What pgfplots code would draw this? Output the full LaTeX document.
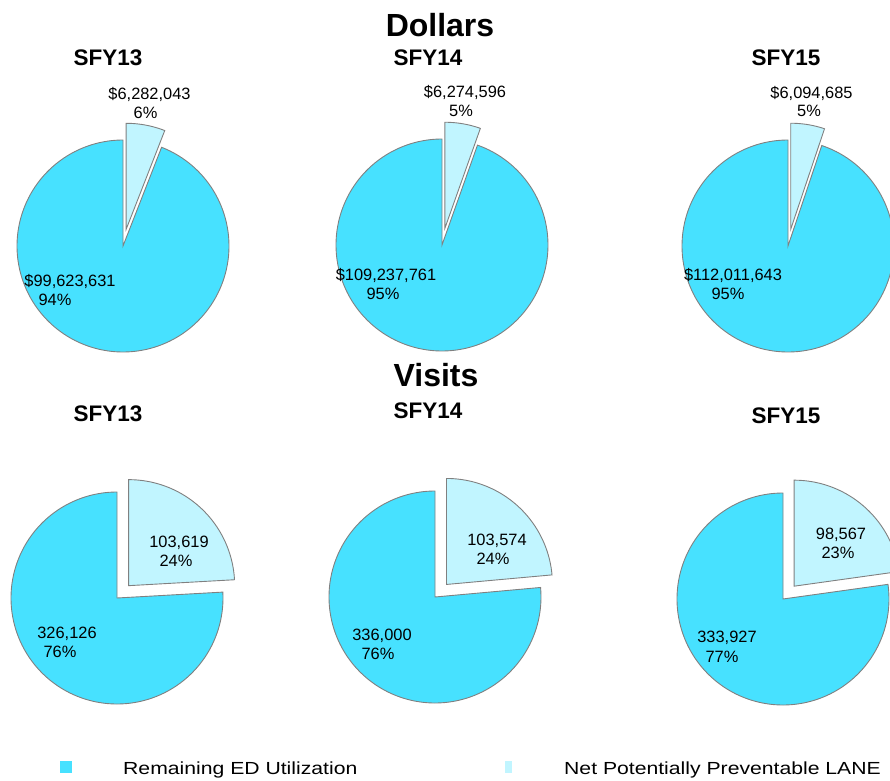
\documentclass[border=0pt]{standalone}
\usepackage{pgfplots}
\pgfplotsset{compat=1.18}
\usepackage{fontspec}
\setmainfont{Liberation Sans}
\newfontfamily\legfont[FakeStretch=1.21]{Liberation Sans}
\definecolor{mainc}{RGB}{71,225,255}
\definecolor{lightc}{RGB}{193,245,255}
\definecolor{edgec}{RGB}{128,128,128}
\newcommand\lab{\fontsize{16.4bp}{18bp}\selectfont}
\newcommand\sub{\fontsize{22.5bp}{24bp}\selectfont\bfseries}
\newcommand\ttl{\fontsize{32bp}{34bp}\selectfont\bfseries}
% \pie{cx}{cy}{remaining}{preventable}
\newcommand\pie[4]{%
  \pgfmathsetmacro\fr{#4/(#3+#4)}%
  \pgfmathsetmacro\th{360*\fr}%
  \pgfmathsetmacro\sa{90-\th}%
  \pgfmathsetmacro\mi{90-\th/2}%
  \pgfmathsetmacro\tx{#1+17*cos(\mi)}%
  \pgfmathsetmacro\ty{#2-17*sin(\mi)}%
  \edef\temp{%
    \noexpand\addplot[fill=mainc,draw=edgec,line width=0.9bp,domain=-270:\sa,samples=200,variable=\noexpand\t]
      ({#1+106*cos(\noexpand\t)},{#2-106*sin(\noexpand\t)}) -- (#1,#2) -- cycle;
    \noexpand\addplot[fill=lightc,draw=edgec,line width=0.9bp,domain=\sa:90,samples=80,variable=\noexpand\t]
      ({\tx+106*cos(\noexpand\t)},{\ty-106*sin(\noexpand\t)}) -- (\tx,\ty) -- cycle;
  }%
  \temp
}
\begin{document}
\begin{tikzpicture}
\useasboundingbox (0,0) rectangle (890bp,781bp);
\begin{axis}[
  at={(0,0)}, anchor=south west,
  width=890bp, height=781bp, scale only axis,
  xmin=0, xmax=890, ymin=0, ymax=781, y dir=reverse,
  hide axis, clip=true,
]
% Dollars (millions)
\pie{123}{246}{99.623631}{6.282043}
\pie{442}{245}{109.237761}{6.274596}
\pie{788}{246}{112.011643}{6.094685}
% Visits (thousands)
\pie{117}{598}{326.126}{103.619}
\pie{435}{597}{336.000}{103.574}
\pie{783}{599}{333.927}{98.567}
% titles
\node[font=\ttl,anchor=base] at (axis cs:440,37) {Dollars};
\node[font=\ttl,anchor=base] at (axis cs:436,386) {Visits};
\node[font=\sub,anchor=base] at (axis cs:108,66) {SFY13};
\node[font=\sub,anchor=base] at (axis cs:428,66) {SFY14};
\node[font=\sub,anchor=base] at (axis cs:786,66) {SFY15};
\node[font=\sub,anchor=base] at (axis cs:108,421) {SFY13};
\node[font=\sub,anchor=base] at (axis cs:428,418) {SFY14};
\node[font=\sub,anchor=base] at (axis cs:786,423) {SFY15};
% dollar labels
\node[font=\lab,anchor=base] at (axis cs:149.5,100) {\$6,282,043};
\node[font=\lab,anchor=base] at (axis cs:145.5,119) {6\%};
\node[font=\lab,anchor=base] at (axis cs:70,286) {\$99,623,631};
\node[font=\lab,anchor=base] at (axis cs:55,305) {94\%};
\node[font=\lab,anchor=base] at (axis cs:465,98) {\$6,274,596};
\node[font=\lab,anchor=base] at (axis cs:461,117) {5\%};
\node[font=\lab,anchor=base] at (axis cs:386,280) {\$109,237,761};
\node[font=\lab,anchor=base] at (axis cs:383,299) {95\%};
\node[font=\lab,anchor=base] at (axis cs:811.5,99) {\$6,094,685};
\node[font=\lab,anchor=base] at (axis cs:809,117) {5\%};
\node[font=\lab,anchor=base] at (axis cs:733,280) {\$112,011,643};
\node[font=\lab,anchor=base] at (axis cs:728,299) {95\%};
% visit labels
\node[font=\lab,anchor=base] at (axis cs:179,547) {103,619};
\node[font=\lab,anchor=base] at (axis cs:176,566) {24\%};
\node[font=\lab,anchor=base] at (axis cs:67,638) {326,126};
\node[font=\lab,anchor=base] at (axis cs:60,657) {76\%};
\node[font=\lab,anchor=base] at (axis cs:497,545) {103,574};
\node[font=\lab,anchor=base] at (axis cs:493,564) {24\%};
\node[font=\lab,anchor=base] at (axis cs:382,640) {336,000};
\node[font=\lab,anchor=base] at (axis cs:378,659) {76\%};
\node[font=\lab,anchor=base] at (axis cs:841,539) {98,567};
\node[font=\lab,anchor=base] at (axis cs:838,558) {23\%};
\node[font=\lab,anchor=base] at (axis cs:727,642) {333,927};
\node[font=\lab,anchor=base] at (axis cs:722,662) {77\%};
% legend
\addplot[draw=none,fill=mainc,forget plot] coordinates {(60,761) (72,761) (72,773) (60,773)} -- cycle;
\addplot[draw=none,fill=lightc,forget plot] coordinates {(505,761) (512,761) (512,773) (505,773)} -- cycle;
\node[font={\legfont\fontsize{17.5bp}{19bp}\selectfont},anchor=base west,inner sep=0pt] at (axis cs:123,774) {Remaining ED Utilization};
\node[font={\legfont\fontsize{17.5bp}{19bp}\selectfont},anchor=base west,inner sep=0pt] at (axis cs:564,774) {Net Potentially Preventable LANE};
\end{axis}
\end{tikzpicture}
\end{document}
